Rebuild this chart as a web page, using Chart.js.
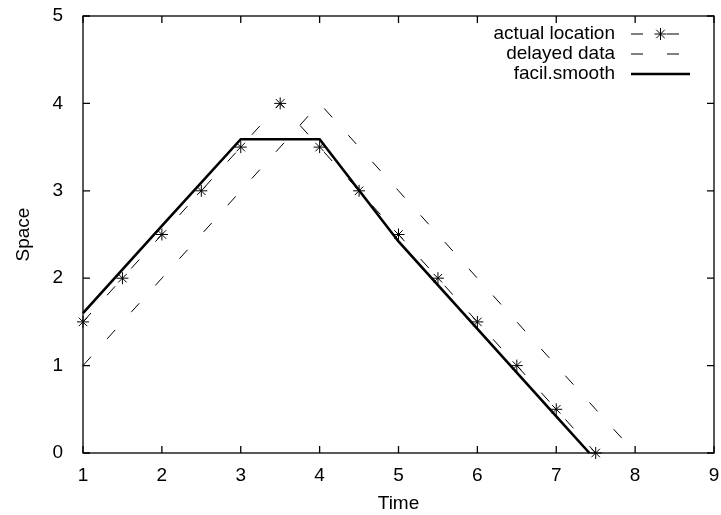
<!DOCTYPE html>
<html>
<head>
<meta charset="utf-8">
<script src="https://cdn.jsdelivr.net/npm/chart.js@4"></script>
<style>
  html, body { margin: 0; padding: 0; background: #fff; }
  canvas { display: block; }
</style>
</head>
<body>
<canvas id="spaceChart" width="721" height="515"></canvas>
<script>
const actualTime  = [1, 1.5, 2, 2.5, 3, 3.5, 4, 4.5, 5, 5.5, 6, 6.5, 7, 7.5];
const actualSpace = [1.5, 2, 2.5, 3, 3.5, 4, 3.5, 3, 2.5, 2, 1.5, 1, 0.5, 0];

const delayedTime  = [1, 1.5, 2, 2.5, 3, 3.5, 4, 4.5, 5, 5.5, 6, 6.5, 7, 7.5, 8];
const delayedSpace = [1, 1.5, 2, 2.5, 3, 3.5, 4, 3.5, 3, 2.5, 2, 1.5, 1, 0.5, 0];

const smoothTime  = [1, 2, 3, 4, 5, 6, 7, 7.42];
const smoothSpace = [1.6, 2.6, 3.59, 3.59, 2.42, 1.42, 0.42, 0];

const xTicks = [1, 2, 3, 4, 5, 6, 7, 8, 9];
const yTicks = [0, 1, 2, 3, 4, 5];

const seriesNames = ['actual location', 'delayed data', 'facil.smooth'];

const FONT = 'Liberation Sans, Arial, Helvetica, sans-serif';
const FSIZE = 19;
const DASH = [12, 24];

const toPoints = (xs, ys) => xs.map((x, i) => ({ x, y: ys[i] }));

// gnuplot style frame: border on all four sides with inward ticks
const framePlugin = {
  id: 'frame',
  afterDraw(chart) {
    const { ctx, chartArea: a, scales: { x, y } } = chart;
    const len = 7;
    ctx.save();
    ctx.strokeStyle = '#000';
    ctx.lineWidth = 1.3;
    ctx.beginPath();
    xTicks.forEach(v => {
      const px = x.getPixelForValue(v);
      ctx.moveTo(px, a.bottom); ctx.lineTo(px, a.bottom - len);
      ctx.moveTo(px, a.top); ctx.lineTo(px, a.top + len);
    });
    yTicks.forEach(v => {
      const py = y.getPixelForValue(v);
      ctx.moveTo(a.left, py); ctx.lineTo(a.left + len, py);
      ctx.moveTo(a.right, py); ctx.lineTo(a.right - len, py);
    });
    ctx.stroke();
    ctx.strokeRect(a.left, a.top, a.right - a.left, a.bottom - a.top);
    ctx.restore();
  }
};

// key in the top right corner: right aligned names, samples after them
const keyPlugin = {
  id: 'key',
  afterDraw(chart) {
    const { ctx } = chart;
    const textRight = 615, x0 = 631, x1 = 690;
    const rows = [34, 54, 74];
    ctx.save();
    ctx.font = FSIZE + 'px ' + FONT;
    ctx.fillStyle = '#000';
    ctx.textAlign = 'right';
    ctx.textBaseline = 'middle';
    chart.data.datasets.forEach((ds, i) => {
      const yy = rows[i];
      ctx.fillText(ds.label, textRight, yy);
      ctx.strokeStyle = '#000';
      ctx.lineWidth = ds.borderWidth;
      ctx.setLineDash(ds.borderDash || []);
      ctx.beginPath();
      ctx.moveTo(x0, yy);
      ctx.lineTo(x1, yy);
      ctx.stroke();
      ctx.setLineDash([]);
      if (ds.pointRadius > 0) {
        const r = ds.pointRadius, cx = (x0 + x1) / 2;
        const d = r * Math.SQRT1_2;
        ctx.lineWidth = 1;
        ctx.beginPath();
        ctx.moveTo(cx - r, yy); ctx.lineTo(cx + r, yy);
        ctx.moveTo(cx, yy - r); ctx.lineTo(cx, yy + r);
        ctx.moveTo(cx - d, yy - d); ctx.lineTo(cx + d, yy + d);
        ctx.moveTo(cx - d, yy + d); ctx.lineTo(cx + d, yy - d);
        ctx.stroke();
      }
    });
    ctx.restore();
  }
};

const ctx = document.getElementById('spaceChart').getContext('2d');
const spaceChart = new Chart(ctx, {
  type: 'line',
  data: {
    datasets: [
      {
        label: seriesNames[0],
        data: toPoints(actualTime, actualSpace),
        borderColor: '#000', borderWidth: 1, borderDash: DASH,
        pointStyle: 'star', pointRadius: 6, pointBorderWidth: 1,
        pointBorderColor: '#000', pointBackgroundColor: '#000',
        order: 2, clip: false
      },
      {
        label: seriesNames[1],
        data: toPoints(delayedTime, delayedSpace),
        borderColor: '#000', borderWidth: 1, borderDash: DASH,
        pointRadius: 0, order: 1, clip: false
      },
      {
        label: seriesNames[2],
        data: toPoints(smoothTime, smoothSpace),
        borderColor: '#000', borderWidth: 2.6,
        pointRadius: 0, order: 0, clip: false
      }
    ]
  },
  options: {
    responsive: false,
    animation: false,
    events: [],
    layout: { padding: { top: 16, right: 6, left: 0, bottom: 0 } },
    plugins: { legend: { display: false }, tooltip: { enabled: false } },
    scales: {
      x: {
        type: 'linear', min: 1, max: 9,
        afterFit: s => { s.height = 62; s.paddingLeft = 0; s.paddingRight = 0; },
        afterBuildTicks: s => { s.ticks = xTicks.map(v => ({ value: v })); },
        grid: { display: false },
        border: { display: false },
        ticks: { color: '#000', font: { family: FONT, size: FSIZE }, padding: 3, maxRotation: 0 },
        title: { display: true, text: 'Time', color: '#000', font: { family: FONT, size: FSIZE }, padding: { top: 0, bottom: 0 } }
      },
      y: {
        type: 'linear', min: 0, max: 5,
        afterFit: s => { s.width = 83; s.paddingTop = 0; s.paddingBottom = 0; },
        afterBuildTicks: s => { s.ticks = yTicks.map(v => ({ value: v })); },
        grid: { display: false },
        border: { display: false },
        ticks: { color: '#000', font: { family: FONT, size: FSIZE }, padding: 12 },
        title: { display: true, text: 'Space', color: '#000', font: { family: FONT, size: FSIZE }, padding: { top: 12, bottom: 0 } }
      }
    }
  },
  plugins: [framePlugin, keyPlugin]
});
window.spaceChart = spaceChart;
</script>
</body>
</html>
